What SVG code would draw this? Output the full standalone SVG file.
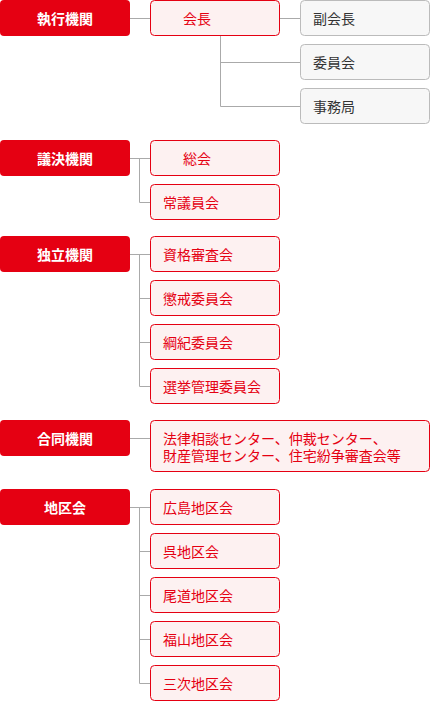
<svg xmlns="http://www.w3.org/2000/svg" width="430" height="701" viewBox="0 0 430 701">
<style>
text{font-family:"Noto Sans CJK JP","Noto Sans",sans-serif;font-size:14px;dominant-baseline:central}
.cat rect{fill:#e50012}
.cat text{fill:#fff;font-weight:bold;text-anchor:middle}
.sub rect{fill:#fdf1f1;stroke:#e50012;stroke-width:1}
.sub text{fill:#e50012}
.gr rect{fill:#f7f7f7;stroke:#bbb;stroke-width:1}
.gr text{fill:#333}
#connectors path{fill:none;stroke:#aaa;stroke-width:1}
</style>
<g id="connectors">
<path d="M130 18.5H150.5M279.5 18.5H300.5M220.5 35.5V106.5M220.5 62.5H300.5M220.5 106.5H300.5"/>
<path d="M130 158.5H150.5M139.5 158.5V202.5H150.5"/>
<path d="M130 254.5H150.5M139.5 254.5V386.5H150.5M139.5 298.5H150.5M139.5 342.5H150.5"/>
<path d="M130 438.5H150.5"/>
<path d="M130 507.5H150.5M139.5 507.5V683.5H150.5M139.5 551.5H150.5M139.5 595.5H150.5M139.5 639.5H150.5"/>
</g>
<g id="n-shikko" class="cat"><rect x="0" y="0" width="130" height="36" rx="4"/><text x="65" y="18">執行機関</text></g>
<g id="n-kaicho" class="sub"><rect x="150.5" y="0.5" width="129" height="35" rx="4"/><text x="183" y="18">会長</text></g>
<g id="n-fukukaicho" class="gr"><rect x="300.5" y="0.5" width="129" height="35" rx="4"/><text x="313" y="18">副会長</text></g>
<g id="n-iinkai" class="gr"><rect x="300.5" y="44.5" width="129" height="35" rx="4"/><text x="313" y="62">委員会</text></g>
<g id="n-jimukyoku" class="gr"><rect x="300.5" y="88.5" width="129" height="35" rx="4"/><text x="313" y="106">事務局</text></g>

<g id="n-giketsu" class="cat"><rect x="0" y="140" width="130" height="36" rx="4"/><text x="65" y="158">議決機関</text></g>
<g id="n-sokai" class="sub"><rect x="150.5" y="140.5" width="129" height="35" rx="4"/><text x="183" y="158">総会</text></g>
<g id="n-jogiinkai" class="sub"><rect x="150.5" y="184.5" width="129" height="35" rx="4"/><text x="163" y="202">常議員会</text></g>

<g id="n-dokuritsu" class="cat"><rect x="0" y="236" width="130" height="36" rx="4"/><text x="65" y="254">独立機関</text></g>
<g id="n-shikaku" class="sub"><rect x="150.5" y="236.5" width="129" height="35" rx="4"/><text x="163" y="254">資格審査会</text></g>
<g id="n-chokai" class="sub"><rect x="150.5" y="280.5" width="129" height="35" rx="4"/><text x="163" y="298">懲戒委員会</text></g>
<g id="n-koki" class="sub"><rect x="150.5" y="324.5" width="129" height="35" rx="4"/><text x="163" y="342">綱紀委員会</text></g>
<g id="n-senkyo" class="sub"><rect x="150.5" y="368.5" width="129" height="35" rx="4"/><text x="163" y="386">選挙管理委員会</text></g>

<g id="n-godo" class="cat"><rect x="0" y="420" width="130" height="36" rx="4"/><text x="65" y="438">合同機関</text></g>
<g id="n-godo-list" class="sub"><rect x="150.5" y="420.5" width="279" height="51" rx="4"/><text x="163" y="437.5"><tspan x="163" y="437.5">法律相談センター、仲裁センター、</tspan><tspan x="163" y="455">財産管理センター、住宅紛争審査会等</tspan></text></g>

<g id="n-chiku" class="cat"><rect x="0" y="489" width="130" height="36" rx="4"/><text x="65" y="507">地区会</text></g>
<g id="n-hiroshima" class="sub"><rect x="150.5" y="489.5" width="129" height="35" rx="4"/><text x="163" y="507">広島地区会</text></g>
<g id="n-kure" class="sub"><rect x="150.5" y="533.5" width="129" height="35" rx="4"/><text x="163" y="551">呉地区会</text></g>
<g id="n-onomichi" class="sub"><rect x="150.5" y="577.5" width="129" height="35" rx="4"/><text x="163" y="595">尾道地区会</text></g>
<g id="n-fukuyama" class="sub"><rect x="150.5" y="621.5" width="129" height="35" rx="4"/><text x="163" y="639">福山地区会</text></g>
<g id="n-miyoshi" class="sub"><rect x="150.5" y="665.5" width="129" height="35" rx="4"/><text x="163" y="683">三次地区会</text></g>
</svg>
